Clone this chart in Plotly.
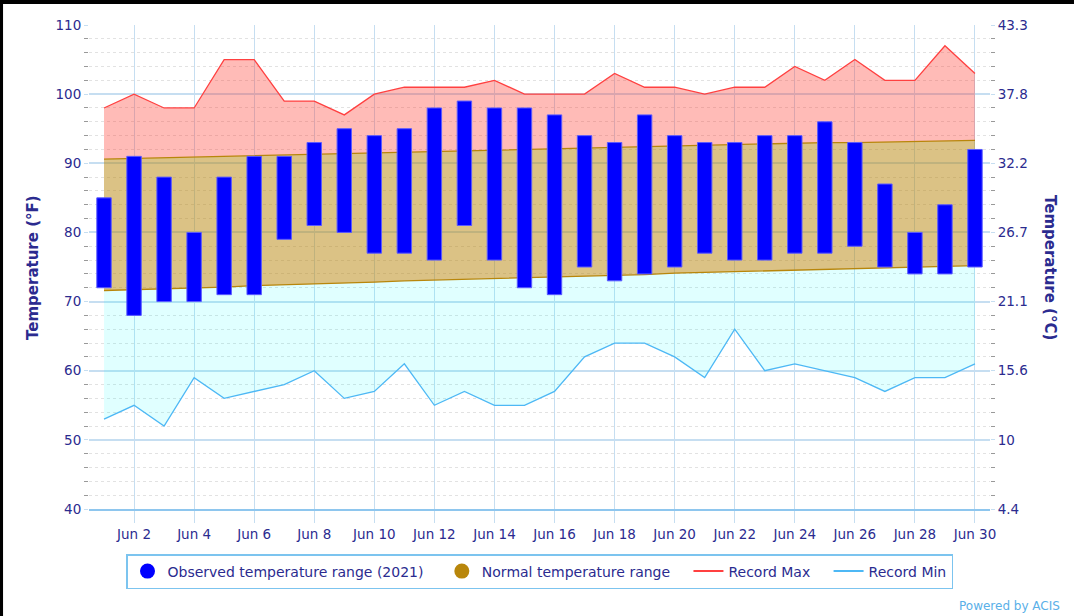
import plotly.graph_objects as go

# ---------------------------
# Données : juin 2021, températures (°F)
# ---------------------------
days = list(range(1, 31))
tick_days = [2, 4, 6, 8, 10, 12, 14, 16, 18, 20, 22, 24, 26, 28, 30]
tick_labels = ["Jun 2", "Jun 4", "Jun 6", "Jun 8", "Jun 10", "Jun 12", "Jun 14", "Jun 16",
               "Jun 18", "Jun 20", "Jun 22", "Jun 24", "Jun 26", "Jun 28", "Jun 30"]

obs_high = [85, 91, 88, 80, 88, 91, 91, 93, 95, 94, 95, 98, 99, 98, 98,
            97, 94, 93, 97, 94, 93, 93, 94, 94, 96, 93, 87, 80, 84, 92]
obs_low = [72, 68, 70, 70, 71, 71, 79, 81, 80, 77, 77, 76, 81, 76, 72,
           71, 75, 73, 74, 75, 77, 76, 76, 77, 77, 78, 75, 74, 74, 75]

normal_high = [90.6, 90.7, 90.8, 90.9, 91.0, 91.1, 91.3, 91.4, 91.5, 91.6,
               91.7, 91.8, 91.9, 92.0, 92.1, 92.2, 92.3, 92.4, 92.5, 92.6,
               92.7, 92.8, 92.8, 92.9, 93.0, 93.0, 93.1, 93.2, 93.2, 93.3]
normal_low = [71.6, 71.7, 71.9, 72.0, 72.1, 72.3, 72.4, 72.6, 72.7, 72.8,
              73.0, 73.1, 73.2, 73.3, 73.5, 73.6, 73.7, 73.8, 73.9, 74.1,
              74.2, 74.3, 74.4, 74.5, 74.6, 74.7, 74.8, 74.9, 75.0, 75.2]

record_max = [98, 100, 98, 98, 105, 105, 99, 99, 97, 100, 101, 101, 101, 102, 100,
              100, 100, 103, 101, 101, 100, 101, 101, 104, 102, 105, 102, 102, 107, 103]
record_min = [53, 55, 52, 59, 56, 57, 58, 60, 56, 57, 61, 55, 57, 55, 55,
              57, 62, 64, 64, 62, 59, 66, 60, 61, 60, 59, 57, 59, 59, 61]

f_ticks = [40, 50, 60, 70, 80, 90, 100, 110]
c_labels = ["4.4", "10", "15.6", "21.1", "26.7", "32.2", "37.8", "43.3"]

# ---------------------------
# Styles
# ---------------------------
NAVY = "#2b2b8f"
GRID = "#c6def1"
FONT = "DejaVu Sans"
RED = "#ff4040"
GOLD = "#b8860b"
CYAN_LINE = "#4db8f5"
PAD = "\u00a0" * 3  # espacement entre les entrées de légende

fig = go.Figure()

# Zone record max -> normale haute
fig.add_trace(go.Scatter(x=days, y=normal_high, mode="lines", line=dict(width=0),
                         showlegend=False, hoverinfo="skip"))
fig.add_trace(go.Scatter(x=days, y=record_max, mode="lines", fill="tonexty",
                         fillcolor="rgba(255,60,50,0.35)", line=dict(color=RED, width=1.3),
                         showlegend=False, name="Record Max"))

# Zone record min -> normale basse
fig.add_trace(go.Scatter(x=days, y=record_min, mode="lines", line=dict(width=0),
                         showlegend=False, hoverinfo="skip"))
fig.add_trace(go.Scatter(x=days, y=normal_low, mode="lines", fill="tonexty",
                         fillcolor="rgba(0,255,255,0.12)", line=dict(width=0),
                         showlegend=False, hoverinfo="skip"))

# Plage normale
fig.add_trace(go.Scatter(x=days, y=normal_low, mode="lines", line=dict(color=GOLD, width=1.3),
                         showlegend=False, name="Normal low"))
fig.add_trace(go.Scatter(x=days, y=normal_high, mode="lines", fill="tonexty",
                         fillcolor="rgba(184,134,11,0.5)", line=dict(color=GOLD, width=1.3),
                         showlegend=False, name="Normal high"))

fig.add_trace(go.Scatter(x=days, y=record_min, mode="lines", line=dict(color=CYAN_LINE, width=1.3),
                         showlegend=False, name="Record Min"))

# Plage observée (sur l'axe de droite pour passer au-dessus des zones)
fig.add_trace(go.Bar(
    x=days,
    y=[h - l for h, l in zip(obs_high, obs_low)],
    base=obs_low,
    width=0.48,
    marker=dict(color="#0000ff", line=dict(color="#5a5aff", width=1)),
    yaxis="y2",
    showlegend=False,
    name="Observed",
))

# Entrées de légende
fig.add_trace(go.Scatter(x=[None], y=[None], mode="markers",
                         marker=dict(color="#0000ff", size=15),
                         name="Observed temperature range (2021)" + PAD))
fig.add_trace(go.Scatter(x=[None], y=[None], mode="markers",
                         marker=dict(color=GOLD, size=15),
                         name="Normal temperature range" + PAD))
fig.add_trace(go.Scatter(x=[None], y=[None], mode="lines",
                         line=dict(color=RED, width=2), name="Record Max" + PAD))
fig.add_trace(go.Scatter(x=[None], y=[None], mode="lines",
                         line=dict(color=CYAN_LINE, width=2), name="Record Min"))

minor_axis = dict(dtick=2, ticks="outside", ticklen=4, tickcolor="#999999",
                  showgrid=True, griddash="dot", gridcolor="#e2e2e2", gridwidth=1)

fig.update_layout(
    width=1074,
    height=616,
    margin=dict(l=89, r=84, t=25, b=107),
    paper_bgcolor="white",
    plot_bgcolor="white",
    font=dict(family=FONT, color=NAVY, size=13.5),
    barmode="overlay",
    xaxis=dict(
        range=[0.5, 30.5],
        tickvals=tick_days,
        ticktext=tick_labels,
        showgrid=True,
        gridcolor=GRID,
        gridwidth=1,
        ticks="outside",
        ticklen=12,
        tickcolor=GRID,
        showline=True,
        linecolor="#8ec6ee",
        linewidth=2,
        zeroline=False,
        tickfont=dict(size=13.5, color=NAVY),
    ),
    yaxis=dict(
        range=[40, 110],
        tickvals=f_ticks,
        showgrid=True,
        gridcolor=GRID,
        gridwidth=1.5,
        ticks="outside",
        ticklen=4,
        tickcolor=GRID,
        zeroline=False,
        minor=minor_axis,
        tickfont=dict(size=13.5, color=NAVY),
    ),
    yaxis2=dict(
        range=[40, 110],
        overlaying="y",
        side="right",
        tickvals=f_ticks,
        ticktext=c_labels,
        showgrid=False,
        ticks="outside",
        ticklen=4,
        tickcolor=GRID,
        zeroline=False,
        minor=dict(dtick=2, ticks="outside", ticklen=4, tickcolor="#999999", showgrid=False),
        tickfont=dict(size=13.5, color=NAVY),
    ),
    legend=dict(
        orientation="h",
        traceorder="normal",
        x=0.5,
        xanchor="center",
        y=-0.093,
        yanchor="top",
        bordercolor="#7cc4ef",
        borderwidth=1.5,
        font=dict(size=14, color=NAVY, family=FONT),
        bgcolor="white",
    ),
    showlegend=True,
)

# Titres des axes
fig.add_annotation(text="<b>Temperature (°F)</b>", xref="paper", yref="paper",
                   x=-0.0622, y=0.5, xanchor="center", yanchor="middle",
                   showarrow=False, textangle=-90,
                   font=dict(size=15, color=NAVY, family=FONT))
fig.add_annotation(text="<b>Temperature (°C)</b>", xref="paper", yref="paper",
                   x=1.0666, y=0.5, xanchor="center", yanchor="middle",
                   showarrow=False, textangle=90,
                   font=dict(size=15, color=NAVY, family=FONT))
fig.add_annotation(text="Powered by ACIS", xref="paper", yref="paper",
                   x=1.0799, y=-0.2004, xanchor="right", yanchor="middle", showarrow=False,
                   font=dict(size=12, color="#5ab0e8", family=FONT))

# Bandes noires (bord de capture)
fig.add_shape(type="rect", xref="paper", yref="paper", x0=-0.1, x1=1.1, y0=1.0434, y1=1.06,
              fillcolor="black", line=dict(width=0), layer="above")
fig.add_shape(type="rect", xref="paper", yref="paper", x0=-0.1, x1=-0.0954, y0=-0.25, y1=1.06,
              fillcolor="black", line=dict(width=0), layer="above")

fig.write_html("out.html", config={"displayModeBar": False},
               post_script="document.body.style.margin='0';")
